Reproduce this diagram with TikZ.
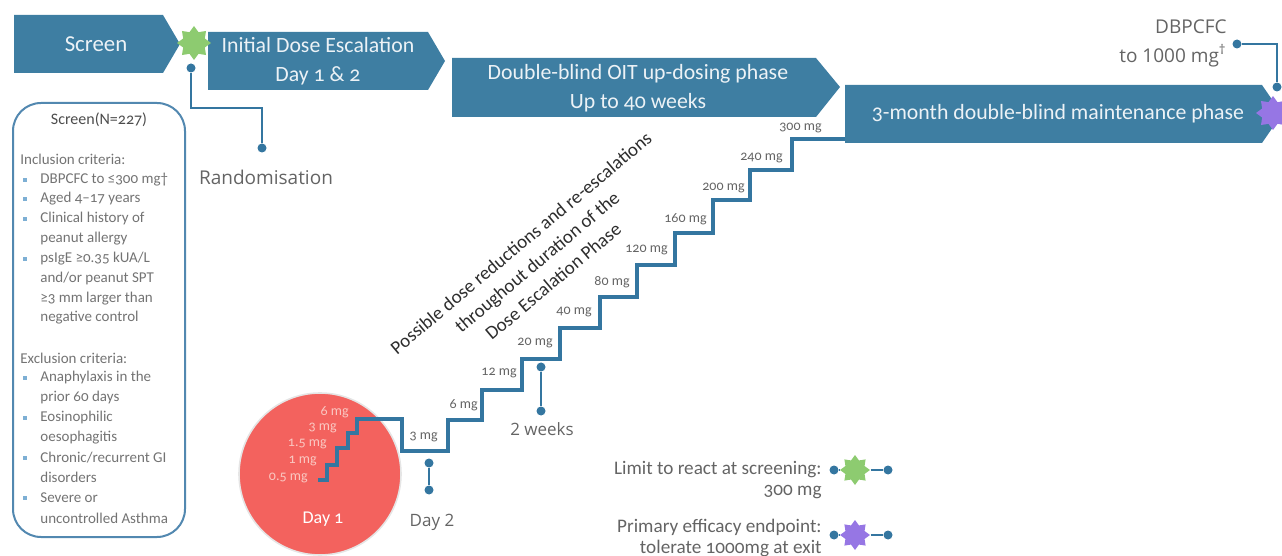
\documentclass[tikz,border=0pt]{standalone}
\usepackage{fontspec}
\setmainfont{Carlito}[Numbers=OldStyle]
\newfontfamily\labelfont{Open Sans}
\usetikzlibrary{shapes.geometric}

\definecolor{phaseblue}{RGB}{62,126,162}
\definecolor{linkblue}{RGB}{52,118,160}
\definecolor{boxblue}{RGB}{82,136,176}
\definecolor{screengreen}{RGB}{141,203,112}
\definecolor{endpurple}{RGB}{150,118,228}
\definecolor{dayred}{RGB}{243,98,94}
\definecolor{daypink}{RGB}{250,200,194}
\definecolor{textgray}{RGB}{100,100,100}
\definecolor{critgray}{RGB}{115,115,115}
\definecolor{notegray}{RGB}{45,45,45}
\definecolor{bulletblue}{RGB}{125,175,212}

\tikzset{
  phasetext/.style={text=white!90!phaseblue, align=center, inner sep=0pt,
    font=\fontsize{10.9}{14.5}\selectfont},
  burst/.style={star, star points=8, star point ratio=1.45, minimum size=17pt,
    inner sep=0pt},
  dot/.style={circle, fill=linkblue, inner sep=0pt, minimum size=4.5pt},
  link/.style={draw=linkblue, line width=1pt},
  stair/.style={draw=linkblue, line width=1.6pt},
  crit/.style={anchor=west, inner sep=0pt, text=critgray,
    font=\fontsize{7.5}{8}\selectfont},
  dose/.style={anchor=east, inner sep=0pt, text=textgray,
    font=\fontsize{7}{8}\selectfont},
  dayone/.style={dose, text=daypink},
  label/.style={inner sep=0pt, text=textgray, font=\labelfont\fontsize{8.5}{11}\selectfont},
  legend/.style={anchor=east, inner sep=0pt, text=textgray,
    font=\fontsize{9.6}{10}\selectfont},
}

\begin{document}
\begin{tikzpicture}[x=0.5pt, y=-0.5pt]
\useasboundingbox (0,0) rectangle (1282,556);

\fill[phaseblue] (14,15) -- (163,15) -- (180,44) -- (163,73) -- (14,73) -- cycle;
\fill[phaseblue] (208,32) -- (428,32) -- (445,61) -- (428,90) -- (208,90) -- cycle;
\fill[phaseblue] (452,58) -- (816,58) -- (840,87) -- (816,117) -- (452,117) -- cycle;
\fill[phaseblue] (845,85) -- (1262,85) -- (1282,114) -- (1262,143) -- (845,143) -- cycle;

\node[phasetext, font=\fontsize{11.4}{12}\selectfont] (screen) at (96,44) {Screen};
\node[phasetext] (initial) at (318,61) {Initial Dose Escalation\\Day 1 \& 2};
\node[phasetext] (updosing) at (638,88) {Double-blind OIT up-dosing phase\\Up to 40 weeks};
\node[phasetext] (maint) at (1058,114) {3-month double-blind maintenance phase};

\node[burst, fill=screengreen] (screenstar) at (194,43) {};
\node[burst, fill=endpurple] (exitstar) at (1273,113) {};

\node[dot] (randtop) at (191,68) {};
\node[dot] (randbot) at (262,148) {};
\coordinate (randbend) at (262,108);
\draw[link] (randtop) |- (randbend) -- (randbot);
\node[label, font=\labelfont\fontsize{9.5}{11}\selectfont] (rand) at (266,177) {Randomisation};

\node[dot] (dbdot) at (1237,44) {};
\node[dot] (dbstar) at (1277,87) {};
\draw[link] (dbdot) -| (dbstar);
\node[label, align=right, anchor=east, font=\labelfont\fontsize{9.5}{14.5}\selectfont] (dbpcfc) at (1227,43)
  {DBPCFC\\to 1000 mg\textsuperscript{\dag}};

\draw[boxblue, line width=1pt, rounded corners=14pt] (13,103) rectangle (185,537);
\node[inner sep=0pt, text=notegray!85, font=\fontsize{8}{9}\selectfont] (screenn) at (99,120) {Screen(N=227)};

\node[crit] (inc) at (20,159) {Inclusion criteria:};
\fill[bulletblue] (23,178) rectangle (27,182);
\node[crit] (inc1) at (40,180) {DBPCFC to ≤300 mg†};
\fill[bulletblue] (23,197) rectangle (27,201);
\node[crit] (inc2) at (40,199) {Aged 4–17 years};
\fill[bulletblue] (23,217) rectangle (27,221);
\node[crit] (inc3a) at (40,219) {Clinical history of};
\node[crit] (inc3b) at (40,239) {peanut allergy};
\fill[bulletblue] (23,257) rectangle (27,261);
\node[crit] (inc4a) at (40,259) {psIgE ≥0.35 kUA/L};
\node[crit] (inc4b) at (40,279) {and/or peanut SPT};
\node[crit] (inc4c) at (40,299) {≥3 mm larger than};
\node[crit] (inc4d) at (40,318) {negative control};

\node[crit] (exc) at (20,358) {Exclusion criteria:};
\fill[bulletblue] (23,376) rectangle (27,380);
\node[crit] (exc1a) at (40,378) {Anaphylaxis in the};
\node[crit] (exc1b) at (40,398) {prior 60 days};
\fill[bulletblue] (23,416) rectangle (27,420);
\node[crit] (exc2a) at (40,418) {Eosinophilic};
\node[crit] (exc2b) at (40,438) {oesophagitis};
\fill[bulletblue] (23,456) rectangle (27,460);
\node[crit] (exc3a) at (40,458) {Chronic/recurrent GI};
\node[crit] (exc3b) at (40,477) {disorders};
\fill[bulletblue] (23,496) rectangle (27,500);
\node[crit] (exc4a) at (40,498) {Severe or};
\node[crit] (exc4b) at (40,518) {uncontrolled Asthma};

\fill[dayred] (320,474) circle (81);
\draw[white!80!gray, line width=0.8pt] (320,474) circle (81);
\node[text=white, inner sep=0pt, font=\fontsize{9}{10}\selectfont] (day1) at (323,519) {Day 1};

\draw[stair] (318,480) -- (327,480) -- (327,465) -- (337,465) -- (337,448) -- (348,448)
  -- (348,433) -- (357,433) -- (357,419) -- (402,419) -- (402,451) -- (448,451)
  -- (448,420) -- (482,420) -- (482,390) -- (522,390) -- (522,359) -- (560,359)
  -- (560,328) -- (600,328) -- (600,297) -- (637,297) -- (637,265) -- (675,265)
  -- (675,233) -- (713,233) -- (713,200) -- (750,200) -- (750,170) -- (792,170)
  -- (792,139) -- (845,139);

\node[dayone] (d05) at (308,478) {0.5 mg};
\node[dayone] (d1) at (317,461) {1 mg};
\node[dayone] (d15) at (327,444) {1.5 mg};
\node[dayone] (d3) at (337,428) {3 mg};
\node[dayone] (d6) at (349,412) {6 mg};

\node[dose] (m3) at (438,437) {3 mg};
\node[dose] (m6) at (478,405) {6 mg};
\node[dose] (m12) at (517,373) {12 mg};
\node[dose] (m20) at (553,343) {20 mg};
\node[dose] (m40) at (592,312) {40 mg};
\node[dose] (m80) at (630,282) {80 mg};
\node[dose] (m120) at (668,250) {120 mg};
\node[dose] (m160) at (707,219) {160 mg};
\node[dose] (m200) at (745,188) {200 mg};
\node[dose] (m240) at (783,158) {240 mg};
\node[dose] (m300) at (822,128) {300 mg};

\node[dot] (day2top) at (429,463) {};
\node[dot] (day2bot) at (429,490) {};
\draw[link] (day2top) -- (day2bot);
\node[label] (day2) at (432,522) {Day 2};

\node[dot] (weektop) at (541,367) {};
\node[dot] (weekbot) at (541,411) {};
\draw[link] (weektop) -- (weekbot);
\node[label] (weeks) at (542,429) {2 weeks};

\node[rotate=40, align=center, inner sep=0pt, text=notegray,
  font=\fontsize{9.5}{12.5}\selectfont] (note) at (537,262)
  {Possible dose reductions and re-escalations\\throughout duration of the\\Dose Escalation Phase};

\node[legend] (leg1) at (822,470) {Limit to react at screening:};
\node[legend] (leg1b) at (822,492) {300 mg};
\node[legend] (leg2) at (822,527) {Primary efficacy endpoint:};
\node[legend] (leg2b) at (822,548) {tolerate 1000mg at exit};

\node[burst, fill=screengreen, minimum size=15pt] (leg1star) at (855,470) {};
\node[dot] (leg1l) at (834,470) {};
\node[dot] (leg1r) at (888,470) {};
\draw[link] (leg1l) -- (leg1star) -- (leg1r);
\node[burst, fill=endpurple, minimum size=15pt] (leg2star) at (855,535) {};
\node[dot] (leg2l) at (834,535) {};
\node[dot] (leg2r) at (888,535) {};
\draw[link] (leg2l) -- (leg2star) -- (leg2r);

\end{tikzpicture}
\end{document}
